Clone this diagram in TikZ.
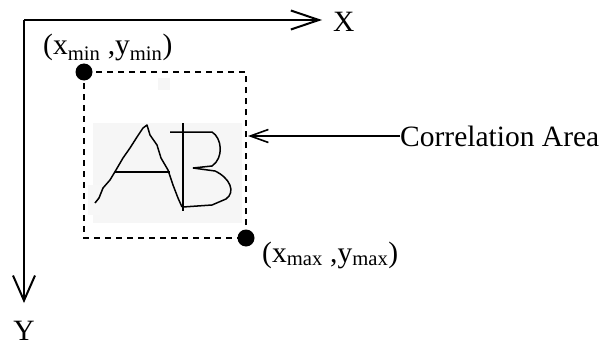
\documentclass[tikz,border=0pt]{standalone}
\usepackage{fontspec}
\setmainfont{Liberation Serif}
\usetikzlibrary{arrows.meta}
\begin{document}
\begin{tikzpicture}[x=1pt,y=-1pt,
  lbl/.style={inner sep=0pt,font=\fontsize{29.5}{34}\selectfont},
  axis/.style={line width=2.2pt},
  dot/.style={circle,fill=black,minimum size=17pt,inner sep=0pt},
  hand/.style={line width=1.5pt,line join=round}]
\useasboundingbox (0,0) rectangle (605,345);
% faint scanned background of the handwriting
\fill[gray!7] (93,123) rectangle (242,223);
\fill[gray!6] (88,185) rectangle (100,215);
\fill[gray!7] (158,78) rectangle (170,90);
% axes
\coordinate (O) at (24,20);
\coordinate (Xend) at (322,20);
\coordinate (Yend) at (24,303);
\node[lbl,anchor=base west] (X) at (333,32) {X};
\node[lbl,anchor=base] (Y) at (24,340) {Y};
\draw[axis,-{Straight Barb[length=28pt,width=19pt,line width=2pt]}] (O) -- (Xend);
\draw[axis,-{Straight Barb[length=25pt,width=22pt,line width=2pt]}] (O) -- (Yend);
% correlation box
\coordinate (A) at (84,72);
\coordinate (B) at (246,238);
\draw[line width=2.2pt,dash pattern=on 6pt off 5pt] (A) rectangle (B);
\node[dot] (dA) at (A) {};
\node[dot] (dB) at (B) {};
\node[lbl,anchor=base west] (minl) at (43,55) {(x\textsubscript{min} ,y\textsubscript{min})};
\node[lbl,anchor=base west] (maxl) at (262,262) {(x\textsubscript{max} ,y\textsubscript{max})};
% label
\node[lbl,anchor=base west] (corr) at (400,146) {Correlation Area};
\coordinate (boxR) at (248,136);
\draw[line width=1.6pt,-{Straight Barb[length=18pt,width=13pt,line width=1.6pt]}] (corr.west |- boxR) -- (boxR);
% handwriting A
\draw[hand] (95,203) -- (99,198) -- (103,188) -- (110,180) -- (116,170) -- (123,158) -- (130,148) -- (137,137) -- (143,128) -- (147,125)
  -- (150,135) -- (157,145) -- (161,158) -- (168,170) -- (173,185) -- (178,198) -- (182,207);
\draw[hand] (115,172) -- (170,172);
% handwriting B
\draw[hand] (183,123) -- (183,211);
\draw[hand] (170,132) -- (212,132) .. controls (222,138) and (224,158) .. (212,166) -- (193,168);
\draw[hand] (193,168) -- (215,171) .. controls (230,178) and (236,192) .. (226,199) -- (212,205) -- (183,207);
\end{tikzpicture}
\end{document}
